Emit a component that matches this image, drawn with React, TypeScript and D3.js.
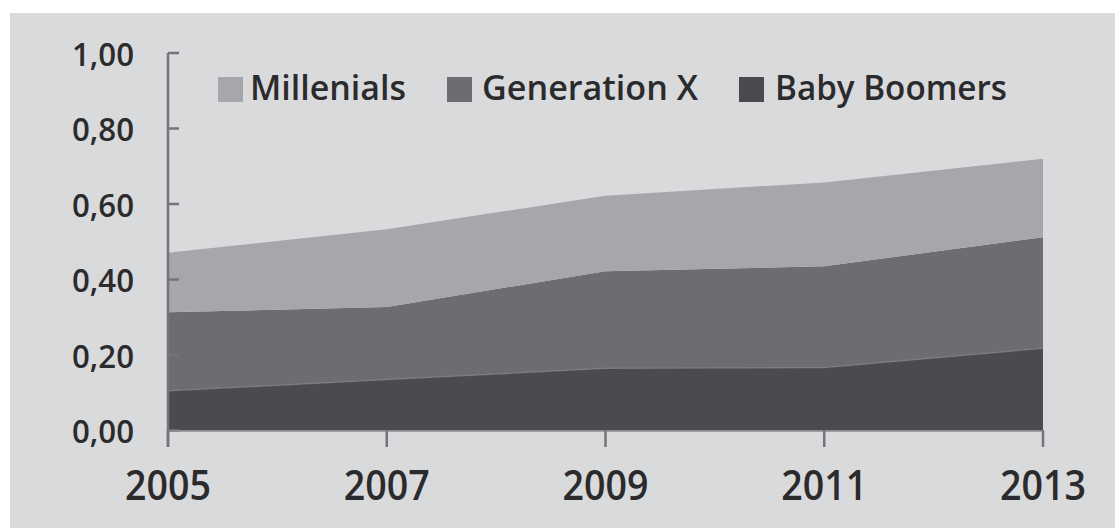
import React from "react";
import * as d3 from "d3";

const years = [2005, 2007, 2009, 2011, 2013];
const babyBoomers = [0.105, 0.135, 0.165, 0.167, 0.218];
const generationX = [0.208, 0.192, 0.257, 0.268, 0.294];
const millenials = [0.158, 0.206, 0.2, 0.222, 0.208];
const yTicks = [0, 0.2, 0.4, 0.6, 0.8, 1.0];
const yTickLabels = ["0,00", "0,20", "0,40", "0,60", "0,80", "1,00"];
const seriesKeys = ["Baby Boomers", "Generation X", "Millenials"];

const W = 1115;
const H = 528;
const colors: Record<string, string> = {
  Millenials: "#a6a7ab",
  "Generation X": "#6c6d71",
  "Baby Boomers": "#4a4b4e",
};

export default function App() {
  const rows = years.map((yr, i) => ({
    year: yr,
    "Baby Boomers": babyBoomers[i],
    "Generation X": generationX[i],
    Millenials: millenials[i],
  }));
  const x = d3.scaleLinear().domain([2005, 2013]).range([168, 1043]);
  const y = d3.scaleLinear().domain([0, 1]).range([430.5, 53]);
  const stack = d3.stack<any>().keys(seriesKeys);
  const layers = stack(rows);
  const area = d3
    .area<any>()
    .x((d) => x(d.data.year))
    .y0((d) => y(d[0]))
    .y1((d) => y(d[1]));
  const topLine = d3
    .line<any>()
    .x((d) => x(d.data.year))
    .y((d) => y(d[1]));

  const font = "'Open Sans', 'DejaVu Sans', sans-serif";
  const textColor = "#2b2b2d";
  const axisColor = "#747579";

  const legendItems = [
    { key: "Millenials", sq: 218, tx: 250, tw: 156 },
    { key: "Generation X", sq: 447, tx: 482, tw: 216 },
    { key: "Baby Boomers", sq: 739, tx: 775, tw: 232 },
  ];

  return (
    <svg
      width={W}
      height={H}
      style={{ position: "absolute", left: 0, top: 0, background: "#ffffff" }}
    >
      <rect x={10} y={13} width={W - 10} height={H - 13} fill="#d9dadc" />
      {layers.map((layer) => (
        <path key={layer.key} d={area(layer) || ""} fill={colors[layer.key]} />
      ))}
      <path
        d={topLine(layers[0]) || ""}
        fill="none"
        stroke="#7c7d81"
        strokeWidth={1.5}
        opacity={0.8}
      />
      {/* y axis */}
      <line x1={168} x2={168} y1={y(1)} y2={447} stroke={axisColor} strokeWidth={2.5} />
      {yTicks.map((t, i) => (
        <g key={t}>
          <line x1={168} x2={179} y1={y(t)} y2={y(t)} stroke={axisColor} strokeWidth={2.5} />
          <text
            x={134}
            y={y(t)}
            textAnchor="end"
            dominantBaseline="central"
            fontFamily={font}
            fontSize={32}
            fontWeight={600}
            fill={textColor}
            textLength={62}
            lengthAdjust="spacingAndGlyphs"
          >
            {yTickLabels[i]}
          </text>
        </g>
      ))}
      {/* x axis */}
      <line x1={168} x2={1043} y1={431} y2={431} stroke="#8a8b8f" strokeWidth={1.5} />
      {years.map((yr) => (
        <g key={yr}>
          <line x1={x(yr)} x2={x(yr)} y1={430} y2={447} stroke={axisColor} strokeWidth={2.5} />
          <text
            x={x(yr)}
            y={500}
            textAnchor="middle"
            fontFamily={font}
            fontSize={41}
            fontWeight={600}
            fill={textColor}
            textLength={86}
            lengthAdjust="spacingAndGlyphs"
          >
            {yr}
          </text>
        </g>
      ))}
      {/* legend */}
      {legendItems.map((it) => (
        <g key={it.key}>
          <rect x={it.sq} y={77} width={25} height={25} fill={colors[it.key]} />
          <text
            x={it.tx}
            y={100}
            fontFamily={font}
            fontSize={34}
            fontWeight={600}
            fill={textColor}
            textLength={it.tw}
            lengthAdjust="spacingAndGlyphs"
          >
            {it.key}
          </text>
        </g>
      ))}
    </svg>
  );
}
